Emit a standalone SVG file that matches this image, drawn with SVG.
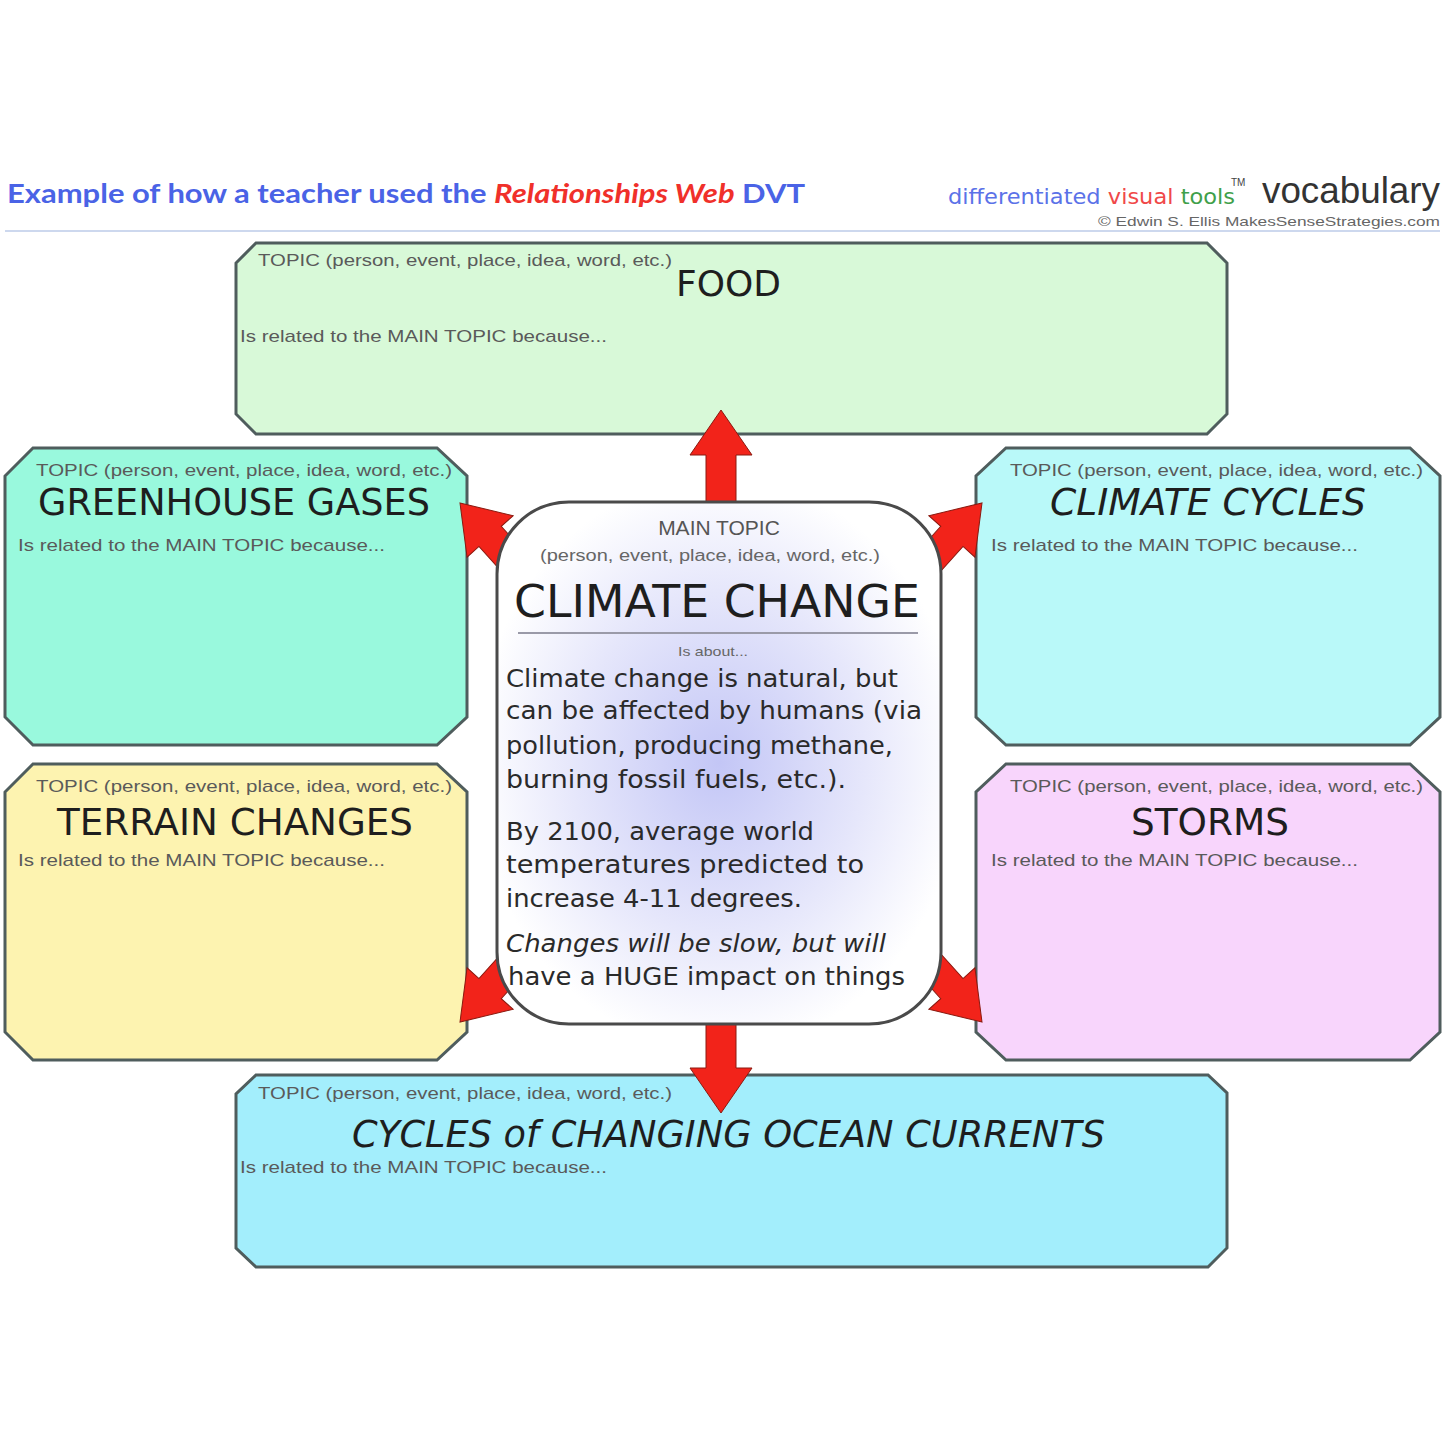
<svg xmlns="http://www.w3.org/2000/svg" width="1445" height="1445" viewBox="0 0 1445 1445">
<style>
.box{stroke:#4f5d5d;stroke-width:3;stroke-linejoin:miter}
.hint{font-family:"Liberation Sans",Arial,sans-serif;font-size:17px;fill:#5a5a5a}
.title{font-family:"DejaVu Sans",sans-serif;fill:#1e1e1e}
.body{font-family:"DejaVu Sans",sans-serif;font-size:25px;fill:#2a2a2a}
.arrow{fill:#f2231a;stroke:#8a1a10;stroke-width:1}
</style>
<defs>
<radialGradient id="cg" cx="0.5" cy="0.5" r="0.55">
<stop offset="0" stop-color="#c3c6f6"/>
<stop offset="0.6" stop-color="#e6e7fb"/>
<stop offset="1" stop-color="#ffffff"/>
</radialGradient>
<path id="arr" d="M0,0 L31,45 L15,45 L15,100 L-15,100 L-15,45 L-31,45 Z"/>
</defs>
<rect width="1445" height="1445" fill="#ffffff"/>

<g id="header">
<text x="7" y="203" font-family="Lato,'Open Sans',sans-serif" font-weight="bold" font-size="27" fill="#4a63e6" textLength="798" lengthAdjust="spacingAndGlyphs">Example of how a teacher used the <tspan fill="#f0302a" font-style="italic">Relationships Web</tspan> DVT</text>
<text x="948" y="204" font-family="'DejaVu Sans',sans-serif" font-size="21" textLength="287" lengthAdjust="spacingAndGlyphs"><tspan fill="#5b72e8">differentiated</tspan> <tspan fill="#f04848">visual</tspan> <tspan fill="#3fa04a">tools</tspan></text>
<text x="1231" y="186" font-family="'Liberation Sans',sans-serif" font-size="10" fill="#444">TM</text>
<text x="1262" y="203" font-family="'Liberation Sans',sans-serif" font-size="36" fill="#333333" textLength="178" lengthAdjust="spacingAndGlyphs">vocabulary</text>
<text x="1098" y="226" font-family="'Liberation Sans',sans-serif" font-size="13" fill="#666" textLength="342" lengthAdjust="spacingAndGlyphs">©  Edwin S. Ellis  MakesSenseStrategies.com</text>
<line x1="5" y1="231" x2="1440" y2="231" stroke="#cdd8ee" stroke-width="2"/>
</g>

<g id="food">
<polygon class="box" fill="#d8f9d8" points="256,243 1207,243 1227,263 1227,414 1207,434 256,434 236,414 236,263"/>
<text class="hint" x="258" y="266" textLength="414" lengthAdjust="spacingAndGlyphs">TOPIC (person, event, place, idea, word, etc.)</text>
<text class="title" x="676" y="296" font-size="36" textLength="105" lengthAdjust="spacingAndGlyphs">FOOD</text>
<text class="hint" x="240" y="342" textLength="367" lengthAdjust="spacingAndGlyphs">Is related to the MAIN TOPIC because...</text>
</g>

<g id="greenhouse">
<polygon class="box" fill="#99f9dd" points="33,448 437,448 467,476 467,717 437,745 33,745 5,717 5,476"/>
<text class="hint" x="36" y="476" textLength="416" lengthAdjust="spacingAndGlyphs">TOPIC (person, event, place, idea, word, etc.)</text>
<text class="title" x="38" y="515" font-size="38" textLength="392" lengthAdjust="spacingAndGlyphs">GREENHOUSE GASES</text>
<text class="hint" x="18" y="551" textLength="367" lengthAdjust="spacingAndGlyphs">Is related to the MAIN TOPIC because...</text>
</g>

<g id="climate-cycles">
<polygon class="box" fill="#b9f9f9" points="1006,448 1410,448 1440,476 1440,717 1410,745 1006,745 976,717 976,476"/>
<text class="hint" x="1010" y="476" textLength="413" lengthAdjust="spacingAndGlyphs">TOPIC (person, event, place, idea, word, etc.)</text>
<text class="title" x="1050" y="515" font-size="38" font-style="italic" textLength="316" lengthAdjust="spacingAndGlyphs">CLIMATE CYCLES</text>
<text class="hint" x="991" y="551" textLength="367" lengthAdjust="spacingAndGlyphs">Is related to the MAIN TOPIC because...</text>
</g>

<g id="terrain">
<polygon class="box" fill="#fdf3b0" points="33,764 437,764 467,792 467,1032 437,1060 33,1060 5,1032 5,792"/>
<text class="hint" x="36" y="792" textLength="416" lengthAdjust="spacingAndGlyphs">TOPIC (person, event, place, idea, word, etc.)</text>
<text class="title" x="57" y="835" font-size="38" textLength="356" lengthAdjust="spacingAndGlyphs">TERRAIN CHANGES</text>
<text class="hint" x="18" y="866" textLength="367" lengthAdjust="spacingAndGlyphs">Is related to the MAIN TOPIC because...</text>
</g>

<g id="storms">
<polygon class="box" fill="#f8d5fc" points="1006,764 1410,764 1440,792 1440,1032 1410,1060 1006,1060 976,1032 976,792"/>
<text class="hint" x="1010" y="792" textLength="413" lengthAdjust="spacingAndGlyphs">TOPIC (person, event, place, idea, word, etc.)</text>
<text class="title" x="1131" y="835" font-size="38" textLength="158" lengthAdjust="spacingAndGlyphs">STORMS</text>
<text class="hint" x="991" y="866" textLength="367" lengthAdjust="spacingAndGlyphs">Is related to the MAIN TOPIC because...</text>
</g>

<g id="ocean">
<polygon class="box" fill="#a3eefc" points="256,1075 1208,1075 1227,1093 1227,1248 1208,1267 256,1267 236,1248 236,1094"/>
<text class="hint" x="258" y="1099" textLength="414" lengthAdjust="spacingAndGlyphs">TOPIC (person, event, place, idea, word, etc.)</text>
<text class="title" x="352" y="1147" font-size="38" font-style="italic" textLength="753" lengthAdjust="spacingAndGlyphs">CYCLES of CHANGING OCEAN CURRENTS</text>
<text class="hint" x="240" y="1173" textLength="367" lengthAdjust="spacingAndGlyphs">Is related to the MAIN TOPIC because...</text>
</g>

<g id="connectors">
<use href="#arr" class="arrow" transform="translate(721,410)"/>
<use href="#arr" class="arrow" transform="translate(721,1113) rotate(180)"/>
<use href="#arr" class="arrow" transform="translate(460,503) rotate(-42)"/>
<use href="#arr" class="arrow" transform="translate(982,503) rotate(42)"/>
<use href="#arr" class="arrow" transform="translate(460,1022) rotate(-138)"/>
<use href="#arr" class="arrow" transform="translate(982,1022) rotate(138)"/>
</g>

<g id="main-topic">
<rect x="497" y="502" width="444" height="522" rx="72" ry="72" fill="url(#cg)" stroke="#4a4a4a" stroke-width="3"/>
<text x="719" y="535" text-anchor="middle" font-family="'Liberation Sans',sans-serif" font-size="21" fill="#555">MAIN TOPIC</text>
<text x="540" y="561" font-family="'Liberation Sans',sans-serif" font-size="16" fill="#666" textLength="340" lengthAdjust="spacingAndGlyphs">(person, event, place, idea, word, etc.)</text>
<text class="title" x="514" y="617" font-size="44" textLength="406" lengthAdjust="spacingAndGlyphs">CLIMATE CHANGE</text>
<line x1="518" y1="633" x2="918" y2="633" stroke="#9a9aa8" stroke-width="2"/>
<text x="678" y="656" font-family="'Liberation Sans',sans-serif" font-size="13" fill="#666" textLength="70" lengthAdjust="spacingAndGlyphs">Is about...</text>
<text class="body" x="506" y="687" textLength="392" lengthAdjust="spacingAndGlyphs">Climate change is natural, but</text>
<text class="body" x="506" y="719" textLength="416" lengthAdjust="spacingAndGlyphs">can be affected by humans (via</text>
<text class="body" x="506" y="754" textLength="387" lengthAdjust="spacingAndGlyphs">pollution, producing methane,</text>
<text class="body" x="506" y="788" textLength="340" lengthAdjust="spacingAndGlyphs">burning fossil fuels, etc.).</text>
<text class="body" x="506" y="840" textLength="308" lengthAdjust="spacingAndGlyphs">By 2100, average world</text>
<text class="body" x="506" y="873" textLength="358" lengthAdjust="spacingAndGlyphs">temperatures predicted to</text>
<text class="body" x="506" y="907" textLength="296" lengthAdjust="spacingAndGlyphs">increase 4-11 degrees.</text>
<text class="body" x="506" y="952" font-style="italic" textLength="380" lengthAdjust="spacingAndGlyphs">Changes will be slow, but will</text>
<text class="body" x="508" y="985" textLength="397" lengthAdjust="spacingAndGlyphs">have a HUGE impact on things</text>
</g>
</svg>
